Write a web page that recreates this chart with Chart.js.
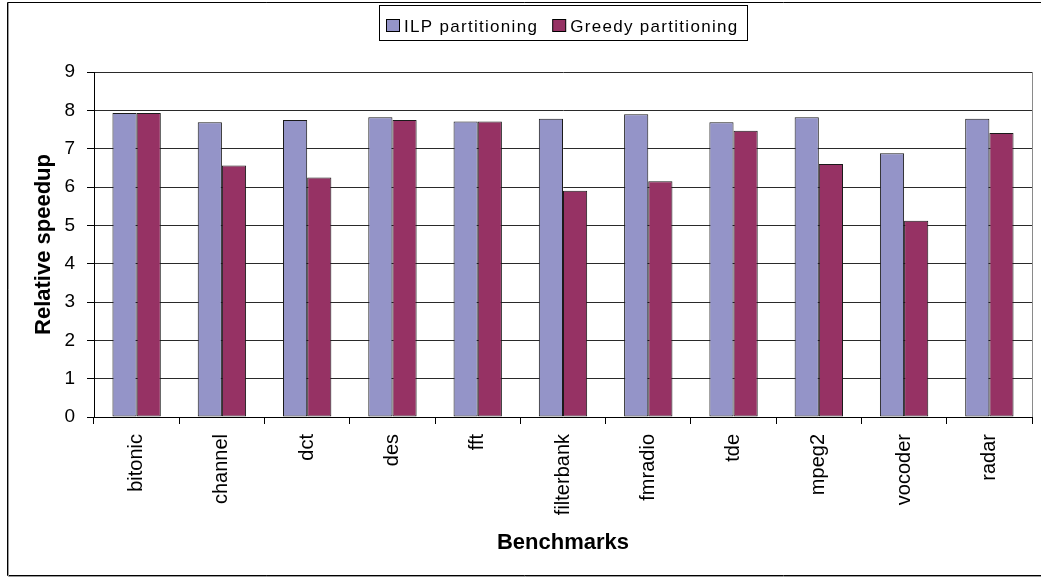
<!DOCTYPE html>
<html>
<head>
<meta charset="utf-8">
<script src="https://cdn.jsdelivr.net/npm/chart.js@4.4.1/dist/chart.umd.min.js"></script>
<style>
  html, body { margin: 0; padding: 0; background: #fff; }
  #wrap { width: 1041px; height: 579px; position: relative; }
</style>
</head>
<body>
<div id="wrap"><canvas id="chart" width="1041" height="579"></canvas></div>
<script>
// Benchmarks on the x axis
const benchmarks = ['bitonic', 'channel', 'dct', 'des', 'fft', 'filterbank',
                    'fmradio', 'tde', 'mpeg2', 'vocoder', 'radar'];

// Relative speedup per benchmark
const ilpSpeedup    = [7.93, 7.69, 7.75, 7.82, 7.71, 7.78, 7.90, 7.69, 7.82, 6.88, 7.78];
const greedySpeedup = [7.93, 6.56, 6.25, 7.75, 7.71, 5.90, 6.15, 7.47, 6.60, 5.12, 7.41];

// Series names
const seriesNames = ['ILP partitioning', 'Greedy partitioning'];

// Value axis range
const speedupMin = 0;
const speedupMax = 9;
const speedupStep = 1;

const REG = '"Liberation Sans", Arial, sans-serif';

// Outer frame, plot right edge and the boxed legend
const decorations = {
  id: 'decorations',
  beforeDraw(chart) {
    const ctx = chart.ctx;
    ctx.save();
    ctx.fillStyle = '#fff';
    ctx.fillRect(0, 0, chart.width, chart.height);
    ctx.restore();
  },
  afterDraw(chart) {
    const ctx = chart.ctx;
    const area = chart.chartArea;
    ctx.save();

    // right edge of the plot area
    ctx.strokeStyle = '#8a8a8a';
    ctx.lineWidth = 1;
    ctx.beginPath();
    ctx.moveTo(Math.round(area.right) + 0.5, area.top);
    ctx.lineTo(Math.round(area.right) + 0.5, area.bottom);
    ctx.stroke();

    // outer chart frame (runs off the right edge)
    ctx.strokeStyle = '#000';
    ctx.beginPath();
    ctx.moveTo(chart.width + 5, 2.5);
    ctx.lineTo(7.5, 2.5);
    ctx.lineTo(7.5, 575.5);
    ctx.lineTo(chart.width + 5, 575.5);
    ctx.stroke();
    ctx.strokeStyle = '#9a9a9a';
    ctx.beginPath();
    ctx.moveTo(8.5, 3);
    ctx.lineTo(8.5, 576.5);
    ctx.lineTo(chart.width + 5, 576.5);
    ctx.stroke();

    // legend
    ctx.font = '17px ' + REG;
    try { ctx.letterSpacing = '1.3px'; } catch (e) {}
    const box = 13, gap = 5, itemGap = 14, padL = 7, padR = 8;
    const items = chart.data.datasets.map(ds => ({
      text: ds.label,
      color: ds.backgroundColor,
      w: ctx.measureText(ds.label).width
    }));
    let total = padL + padR;
    items.forEach((it, i) => { total += box + gap + it.w + (i ? itemGap : 0); });
    const cx = (area.left + area.right) / 2;
    const x0 = Math.round(cx - total / 2);
    ctx.strokeStyle = '#000';
    ctx.lineWidth = 1;
    ctx.strokeRect(x0 + 0.5, 5.5, Math.round(total), 35);

    let x = x0 + padL;
    items.forEach((it, i) => {
      if (i) x += itemGap;
      ctx.fillStyle = it.color;
      ctx.fillRect(x + 0.5, 19.5, box, 12);
      ctx.strokeStyle = '#000';
      ctx.strokeRect(x + 0.5, 19.5, box, 12);
      x += box + gap;
      ctx.fillStyle = '#000';
      ctx.textBaseline = 'alphabetic';
      ctx.textAlign = 'left';
      ctx.fillText(it.text, x, 31.5);
      x += it.w;
    });
    ctx.restore();
  }
};

new Chart(document.getElementById('chart'), {
  type: 'bar',
  data: {
    labels: benchmarks,
    datasets: [
      {
        label: seriesNames[0],
        data: ilpSpeedup,
        backgroundColor: '#9494C8',
        borderColor: '#1a1a1a',
        borderWidth: 1,
        borderSkipped: false,
        categoryPercentage: 0.567,
        barPercentage: 1.0
      },
      {
        label: seriesNames[1],
        data: greedySpeedup,
        backgroundColor: '#963264',
        borderColor: '#1a1a1a',
        borderWidth: 1,
        borderSkipped: false,
        categoryPercentage: 0.567,
        barPercentage: 1.0
      }
    ]
  },
  options: {
    responsive: false,
    devicePixelRatio: 1,
    animation: false,
    layout: { padding: { top: 72, right: 9, bottom: 0, left: 0 } },
    plugins: {
      legend: { display: false },
      tooltip: { enabled: false }
    },
    scales: {
      x: {
        grid: {
          display: true,
          drawOnChartArea: false,
          drawTicks: true,
          tickLength: 7,
          color: '#000',
          offset: true
        },
        border: { display: true, color: '#000', width: 1 },
        ticks: {
          color: '#000',
          font: { family: REG, size: 20 },
          minRotation: 90,
          maxRotation: 90,
          padding: 10,
          autoSkip: false
        },
        title: {
          display: true,
          text: 'Benchmarks',
          color: '#000',
          font: { family: REG, size: 22, weight: 'bold' },
          padding: { top: 0, bottom: 23 }
        },
        afterFit(scale) { scale.height = 162; }
      },
      y: {
        min: speedupMin,
        max: speedupMax,
        grid: {
          color: '#2a2a2a',
          lineWidth: 1,
          drawTicks: true,
          tickLength: 7,
          tickColor: '#000'
        },
        border: { display: true, color: '#000', width: 1 },
        ticks: {
          stepSize: speedupStep,
          color: '#000',
          font: { family: REG, size: 19 },
          padding: 12
        },
        title: {
          display: true,
          text: 'Relative speedup',
          color: '#000',
          font: { family: REG, size: 22, weight: 'bold' },
          padding: { top: 31, bottom: 0 }
        },
        afterFit(scale) { scale.width = 94; }
      }
    }
  },
  plugins: [decorations]
});
</script>
</body>
</html>
